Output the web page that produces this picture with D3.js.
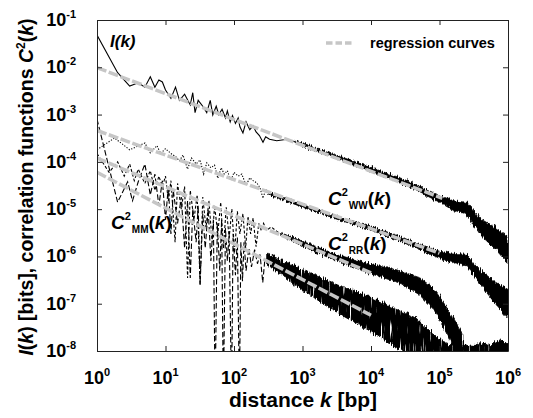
<!DOCTYPE html>
<html>
<head>
<meta charset="utf-8">
<script src="https://cdn.jsdelivr.net/npm/d3@7"></script>
<style>
  body { margin: 0; background: #fff; }
  svg { display: block; font-family: "Liberation Sans", Arial, Helvetica, sans-serif; font-weight: bold; }
</style>
</head>
<body>
<svg id="chart" width="533" height="418"></svg>
<script>
// tick values / labels
const xTickVals = [1, 10, 100, 1e3, 1e4, 1e5, 1e6];
const xTickExps = ["0", "1", "2", "3", "4", "5", "6"];
const yTickVals = [1e-1, 1e-2, 1e-3, 1e-4, 1e-5, 1e-6, 1e-7, 1e-8];
const yTickExps = ["-1", "-2", "-3", "-4", "-5", "-6", "-7", "-8"];

// low-k parts of the curves, [k, value]
const lineI = [[1,4.8e-2],[2,7.7e-3],[3,4.0e-3],[4,4.7e-3],[5,3.8e-3],[6,6.3e-3],[7,3.8e-3],[8,5.4e-3],[9,4.9e-3],[10,3.3e-3],
  [12,2.2e-3],[14,3.8e-3],[16,2.0e-3],[19,2.7e-3],[23,1.6e-3],[25,2.9e-3],[27,1.1e-3],[30,2.0e-3],[35,1.5e-3],[40,1.1e-3],
  [45,2.0e-3],[49,9.8e-4],[55,1.5e-3],[60,1.0e-3],[67,1.3e-3],[75,8.5e-4],[80,1.2e-3],[88,7.0e-4],[95,9.5e-4],[105,6.5e-4],
  [115,8.5e-4],[122,5.5e-4],[135,4.1e-4],[150,7.0e-4],[170,4.8e-4],[190,5.8e-4],[210,4.3e-4],[235,3.6e-4],[265,2.6e-4],
  [290,3.4e-4],[330,3.0e-4],[420,2.8e-4],[600,3.0e-4],[800,2.6e-4]];
const lineWW = [[1,1.8e-4],[1.8,3.2e-4],[3,1.8e-4],[5,2.5e-4],[6,1.55e-4],[7.5,2.2e-4],[8.5,1.5e-4],[10,1.9e-4],[12,1.5e-4],
  [14,1.3e-4],[16,1.05e-4],[18,1.4e-4],[21,7e-5],[24,1.2e-4],[28,9e-5],[32,1.1e-4],[36,5.5e-5],[40,9.5e-5],[46,7.5e-5],
  [52,8.5e-5],[58,4.5e-5],[65,7.5e-5],[72,5.5e-5],[80,6.5e-5],[90,4.0e-5],[100,6.0e-5],[115,5.0e-5],[130,5.5e-5],
  [150,3.2e-5],[170,4.6e-5],[190,4.0e-5],[215,3.6e-5],[240,2.8e-5],[265,1.7e-5],[290,2.6e-5],[320,2.15e-5]];
const lineRR = [[1,1.5e-4],[1.5,6e-5],[2,1.0e-4],[2.5,5e-5],[3,9e-5],[3.5,4e-5],[4,7e-5],[5,3.5e-5],[6,6.5e-5],[7,2.5e-5],
  [8,5e-5],[9,3e-5],[10,5e-5],[11,1.5e-5],[12,4e-5],[13.8,2e-6],[15,3.5e-5],[17,1e-5],[19,3e-5],[21,3.5e-7],[23,2.5e-5],
  [26,6e-6],[29,2e-5],[32,2.5e-7],[35,1.8e-5],[39,4e-6],[43,1.5e-5],[48,2e-6],[52,1.2e-5],[58,3e-6],[64,1.4e-5],[70,1.5e-6],
  [77,1.1e-5],[85,2.5e-6],[93,1.0e-5],[102,1.2e-6],[112,9e-6],[122,3e-6],[135,8e-6],[148,1.5e-6],[160,7e-6],[175,3e-6],
  [190,6.5e-6],[210,1.6e-6],[230,5e-6],[250,3.5e-6],[270,5e-6],[300,3.6e-6],[350,4.2e-6],[420,3.4e-6],[500,2.9e-6]];
const lineMM = [[1,8.0e-4],[2,1.4e-5],[2.8,3.8e-5],[3.3,1.5e-5],[4,3.8e-5],[5,9e-5],[6,2.0e-5],[7,5.5e-5],[8,1.2e-5],[9,4e-5],
  [10,6e-6],[11,3e-5],[12,3e-6],[13,2.5e-5],[15,5e-6],[17,1.8e-5],[19,1.5e-6],[21,1.5e-5],[23,3.5e-7],[25,1.0e-5],[28,2e-6],
  [30,1.2e-5],[32,2.5e-7],[35,8e-6],[38,1.5e-6],[42,1e-5],[46,8e-7],[50,6e-6],[53,1e-9],[57,5e-6],[62,5e-7],[66,6e-6],
  [70,1e-9],[75,4e-6],[80,8e-7],[85,3e-6],[92,1e-9],[97,3e-6],[105,4e-7],[112,2.5e-6],[120,1e-9],[126,2e-6],[133,3e-7],
  [140,2e-6],[150,5e-7],[165,1.5e-6],[180,6e-7],[200,1.4e-6],[220,7e-7],[240,1.1e-6],[263,2.8e-7],[280,7.6e-7],[300,9e-7]];

// dense (noisy) high-k parts, [k, low, high]
const bandI = [[800,2.5e-4,2.75e-4],[1000,2.2e-4,2.5e-4],[3000,1.22e-4,1.42e-4],[1e4,6.4e-5,7.6e-5],[3e4,3.4e-5,4.3e-5],
  [1e5,1.4e-5,1.95e-5],[1.6e5,9.4e-6,1.5e-5],[2.5e5,7.8e-6,1.4e-5],[4e5,2.8e-6,6.2e-6],[6.3e5,1.5e-6,4.2e-6],[1e6,7.2e-7,2.6e-6]];
const bandWW = [[320,2.05e-5,2.25e-5],[1000,1.1e-5,1.25e-5],[3000,6.3e-6,7.2e-6],[1e4,3.6e-6,4.4e-6],[3e4,1.95e-6,2.45e-6],
  [1e5,9.2e-7,1.28e-6],[1.6e5,7.4e-7,1.17e-6],[2.5e5,6.3e-7,1.1e-6],[4e5,2.5e-7,5.1e-7],[6.3e5,1.07e-7,2.95e-7],[1e6,5e-8,2e-7]];
const bandRR = [[500,2.7e-6,3.1e-6],[1000,1.65e-6,2.1e-6],[3000,8.2e-7,1.12e-6],[1e4,4.3e-7,6.8e-7],[2.5e4,2.8e-7,5.1e-7],
  [5e4,1.58e-7,3.6e-7],[8e4,7.9e-8,2.2e-7],[1.1e5,3.5e-8,1.15e-7],[1.6e5,1.25e-8,5e-8],[2.2e5,4.5e-9,2.2e-8]];
const bandMM = [[300,7e-7,1.15e-6],[1000,1.9e-7,5.3e-7],[3000,6.8e-8,2.6e-7],[1e4,2.6e-8,1.38e-7],[2.2e4,1.26e-8,7.9e-8],
  [4.4e4,7.6e-9,5.2e-8],[7e4,3.5e-9,2.8e-8],[1e5,2.2e-9,1.78e-8]];
const bandFloor = [[1e5,1e-9,1.8e-8],[1.4e5,1e-9,1.3e-8],[2e5,1e-9,1.6e-8],[2.8e5,1e-9,1.2e-8],[4e5,1e-9,1.5e-8],
  [5.5e5,1e-9,1.3e-8],[7.5e5,1e-9,1.7e-8],[1e6,1e-9,1.4e-8]];

// regression curves (straight in log-log)
const regI = [[1,9.8e-3],[1.1e5,1.7e-5]];
const regWW = [[1,4.6e-4],[1e5,1.17e-6]];
const regRR = [[1,1.2e-4],[1e4,4.5e-7]];
const regMM = [[1,6.0e-5],[1e4,5.7e-8]];

const svg = d3.select("#chart");
const margin = { top: 20, right: 25, bottom: 67, left: 97 };
const width = 533 - margin.left - margin.right;
const height = 418 - margin.top - margin.bottom;

const x = d3.scaleLog().domain([1, 1e6]).range([0, width]);
const y = d3.scaleLog().domain([1e-8, 1e-1]).range([height, 0]);

const defs = svg.append("defs");
defs.append("clipPath").attr("id", "plot-clip")
  .append("rect").attr("width", width).attr("height", height);

// rough edges for the dense bands
function roughFilter(id, scale, holes) {
  const f = defs.append("filter").attr("id", id)
    .attr("x", "-5%").attr("y", "-20%").attr("width", "110%").attr("height", "140%");
  f.append("feTurbulence").attr("type", "fractalNoise")
    .attr("baseFrequency", "1.1 0.08").attr("numOctaves", 2).attr("seed", 4).attr("result", "noise");
  f.append("feDisplacementMap").attr("in", "SourceGraphic").attr("in2", "noise")
    .attr("scale", scale).attr("xChannelSelector", "R").attr("yChannelSelector", "G").attr("result", "disp");
  if (holes) {
    f.append("feTurbulence").attr("type", "fractalNoise")
      .attr("baseFrequency", "0.9 0.05").attr("numOctaves", 1).attr("seed", 9).attr("result", "n2");
    f.append("feColorMatrix").attr("in", "n2").attr("type", "matrix")
      .attr("values", "0 0 0 0 0  0 0 0 0 0  0 0 0 0 0  7 0 0 0 -1.6").attr("result", "mask");
    f.append("feComposite").attr("in", "disp").attr("in2", "mask").attr("operator", "in");
  }
}
roughFilter("rough", 6, false);
roughFilter("fuzz", 8, true);

const g = svg.append("g").attr("transform", `translate(${margin.left},${margin.top})`);
const plot = g.append("g").attr("clip-path", "url(#plot-clip)");

const line = d3.line().x(d => x(d[0])).y(d => y(d[1]));
const area = d3.area().x(d => x(d[0])).y0(d => y(d[1])).y1(d => y(d[2]));

// noisy bands
const solid = plot.append("g").attr("filter", "url(#rough)");
[bandI, bandWW, bandRR].forEach(b => {
  solid.append("path").datum(b).attr("d", area).attr("fill", "#000")
    .attr("stroke", "#000").attr("stroke-width", 0.8);
});
const fuzzy = plot.append("g").attr("filter", "url(#fuzz)");
[bandMM, bandFloor].forEach(b => {
  fuzzy.append("path").datum(b).attr("d", area).attr("fill", "#000")
    .attr("stroke", "#000").attr("stroke-width", 0.8);
});

// low-k curves
const curves = [
  { data: lineI, dash: null },
  { data: lineWW, dash: "1.2,1.6" },
  { data: lineRR, dash: "3,2" },
  { data: lineMM, dash: "5.5,2.5" }
];
curves.forEach(c => {
  plot.append("path").datum(c.data).attr("d", line)
    .attr("fill", "none").attr("stroke", "#000").attr("stroke-width", 1.1)
    .attr("stroke-dasharray", c.dash);
});

// regression curves
[regI, regWW, regRR, regMM].forEach(r => {
  plot.append("path").datum(r).attr("d", line)
    .attr("fill", "none").attr("stroke", "#c6c6c6").attr("stroke-width", 3.5)
    .attr("stroke-dasharray", "10,2.5");
});

// axes: inward ticks on all four sides
g.append("g").attr("transform", `translate(0,${height})`)
  .call(d3.axisBottom(x).tickValues(xTickVals).tickSizeInner(-5).tickSizeOuter(0).tickFormat(""));
g.append("g")
  .call(d3.axisTop(x).tickValues(xTickVals).tickSizeInner(-5).tickSizeOuter(0).tickFormat(""));
g.append("g")
  .call(d3.axisLeft(y).tickValues(yTickVals).tickSizeInner(-5).tickSizeOuter(0).tickFormat(""));
g.append("g").attr("transform", `translate(${width},0)`)
  .call(d3.axisRight(y).tickValues(yTickVals).tickSizeInner(-5).tickSizeOuter(0).tickFormat(""));
g.selectAll(".domain, .tick line").attr("stroke", "#222").attr("stroke-width", 1);

// tick labels with superscripts
xTickVals.forEach((v, i) => {
  const t = g.append("text").attr("x", x(v)).attr("y", height + 33)
    .attr("text-anchor", "middle").attr("font-size", 18);
  t.append("tspan").text("10");
  t.append("tspan").attr("font-size", 11).attr("dy", -8).text(xTickExps[i]);
});
yTickVals.forEach((v, i) => {
  const t = g.append("text").attr("x", -21).attr("y", y(v) + 6)
    .attr("text-anchor", "end").attr("font-size", 18);
  t.append("tspan").text("10");
  t.append("tspan").attr("font-size", 11).attr("dy", -8).text(yTickExps[i]);
});

// axis titles
const xt = svg.append("text").attr("x", 303).attr("y", 407)
  .attr("text-anchor", "middle").attr("font-size", 21);
xt.append("tspan").text("distance ");
xt.append("tspan").attr("font-style", "italic").text("k");
xt.append("tspan").text(" [bp]");

const yt = svg.append("text").attr("transform", "translate(33,187) rotate(-90)")
  .attr("text-anchor", "middle").attr("font-size", 19.5);
yt.append("tspan").attr("font-style", "italic").text("I");
yt.append("tspan").text("(");
yt.append("tspan").attr("font-style", "italic").text("k");
yt.append("tspan").text(") [bits], correlation functions ");
yt.append("tspan").attr("font-style", "italic").text("C");
yt.append("tspan").attr("font-size", 12).attr("dy", -8).text("2");
yt.append("tspan").attr("dy", 8).text("(");
yt.append("tspan").attr("font-style", "italic").text("k");
yt.append("tspan").text(")");

// curve labels
const iLab = svg.append("text").attr("x", 110).attr("y", 47).attr("font-size", 17).attr("font-style", "italic");
iLab.append("tspan").text("I(");
iLab.append("tspan").text("k");
iLab.append("tspan").text(")");

function cLabel(px, py, sub) {
  const t = svg.append("text").attr("x", px).attr("y", py).attr("font-size", 19);
  t.append("tspan").attr("font-style", "italic").text("C");
  t.append("tspan").attr("font-size", 11).attr("dy", -9).text("2");
  t.append("tspan").attr("font-size", 10).attr("dx", 1).attr("dy", 13).text(sub);
  t.append("tspan").attr("dy", -4).text("(");
  t.append("tspan").attr("font-style", "italic").text("k");
  t.append("tspan").text(")");
}
cLabel(328, 205, "WW");
cLabel(328, 250, "RR");
cLabel(111, 229, "MM");

// legend
svg.append("line").attr("x1", 326).attr("x2", 352).attr("y1", 43).attr("y2", 43)
  .attr("stroke", "#c6c6c6").attr("stroke-width", 3.5).attr("stroke-dasharray", "6.5,3");
svg.append("text").attr("x", 370).attr("y", 48).attr("font-size", 14.5).text("regression curves");
</script>
</body>
</html>
